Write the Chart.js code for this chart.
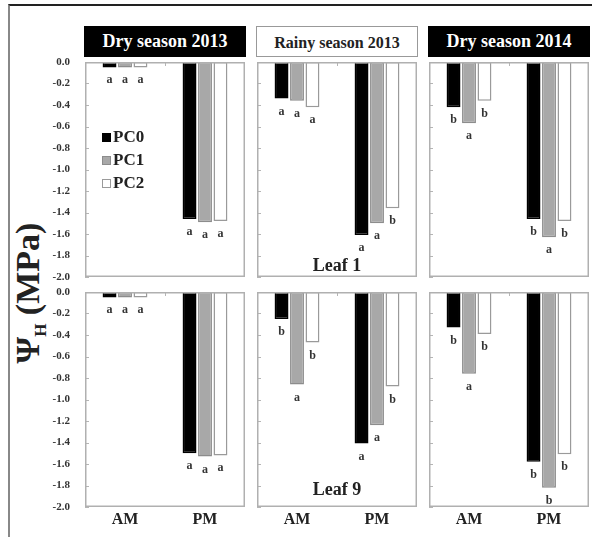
<!DOCTYPE html>
<html>
<head>
<meta charset="utf-8">
<script src="https://cdn.jsdelivr.net/npm/chart.js@4.4.1/dist/chart.umd.min.js"></script>
<style>
  body { margin: 0; background: #fff; font-family: 'Liberation Serif'; }
  #fig { position: relative; width: 592px; height: 537px; overflow: hidden; background: #fff; }
  #frame { position: absolute; left: 8px; top: 4px; width: 700px; height: 700px;
           border-top: 2px solid #222; border-left: 2px solid #888; }
  .ttl { position: absolute; height: 31px; line-height: 31px; text-align: center;
         font-family: 'Liberation Serif'; font-weight: bold; box-sizing: border-box; }
  .dark { background: #000; color: #fff; font-size: 18px; }
  .light { background: #fff; color: #222; border: 1.5px solid #999; font-size: 16px; }
  canvas { position: absolute; }
  #ylab { position: absolute; left: 30px; top: 293px; transform: translate(-50%, -50%) rotate(-90deg);
          font-family: 'Liberation Serif'; font-weight: bold; font-size: 34px; color: #222;
          white-space: nowrap; }
  #ylab sub { font-size: 17px; }
</style>
</head>
<body>
<div id="fig">
  <div id="frame"></div>
  <div id="ylab">Ψ<sub>H</sub> (MPa)</div>
</div>
<script>
// ---- data ----
const categories = ['AM', 'PM'];
const seriesNames = ['PC0', 'PC1', 'PC2'];
const seasonTitles = ['Dry season 2013', 'Rainy season 2013', 'Dry season 2014'];
const leafLabels = ['Leaf 1', 'Leaf 9'];
const yTicks = [0, -0.2, -0.4, -0.6, -0.8, -1.0, -1.2, -1.4, -1.6, -1.8, -2.0];

// values per panel: [PC0, PC1, PC2], each [AM, PM]
const leaf1Dry2013   = [[-0.05, -1.46], [-0.05, -1.49], [-0.05, -1.48]];
const leaf1Rainy2013 = [[-0.34, -1.61], [-0.36, -1.50], [-0.42, -1.36]];
const leaf1Dry2014   = [[-0.42, -1.46], [-0.57, -1.63], [-0.36, -1.48]];
const leaf9Dry2013   = [[-0.05, -1.50], [-0.05, -1.53], [-0.05, -1.52]];
const leaf9Rainy2013 = [[-0.25, -1.41], [-0.86, -1.24], [-0.47, -0.88]];
const leaf9Dry2014   = [[-0.33, -1.58], [-0.76, -1.82], [-0.39, -1.51]];

// significance letters, same layout
const letters1Dry2013   = [['a', 'a'], ['a', 'a'], ['a', 'a']];
const letters1Rainy2013 = [['a', 'a'], ['a', 'a'], ['a', 'b']];
const letters1Dry2014   = [['b', 'b'], ['a', 'a'], ['b', 'b']];
const letters9Dry2013   = [['a', 'a'], ['a', 'a'], ['a', 'a']];
const letters9Rainy2013 = [['b', 'a'], ['a', 'a'], ['b', 'b']];
const letters9Dry2014   = [['b', 'b'], ['a', 'b'], ['b', 'b']];

// ---- styling ----
const fills = ['#000000', '#a8a8a8', '#ffffff'];
const borders = ['#000000', '#8c8c8c', '#9a9a9a'];
const serif = "'Liberation Serif'";
Chart.defaults.font.family = serif;

const colLeft = [85, 257, 429];
const rowTop = [62, 292];
const plotW = 160, plotH = 215;

const panels = [
  { row: 0, col: 0, values: leaf1Dry2013, letters: letters1Dry2013, legend: true },
  { row: 0, col: 1, values: leaf1Rainy2013, letters: letters1Rainy2013, leaf: leafLabels[0], leafGap: 11 },
  { row: 0, col: 2, values: leaf1Dry2014, letters: letters1Dry2014 },
  { row: 1, col: 0, values: leaf9Dry2013, letters: letters9Dry2013 },
  { row: 1, col: 1, values: leaf9Rainy2013, letters: letters9Rainy2013, leaf: leafLabels[1], leafGap: 17 },
  { row: 1, col: 2, values: leaf9Dry2014, letters: letters9Dry2014 }
];

const fig = document.getElementById('fig');

// season header boxes
seasonTitles.forEach((t, i) => {
  const d = document.createElement('div');
  d.className = 'ttl ' + (i === 1 ? 'light' : 'dark');
  d.style.left = (colLeft[i] - 1) + 'px';
  d.style.top = '26px';
  d.style.width = (plotW + 2) + 'px';
  d.textContent = t;
  fig.appendChild(d);
});

// frame, inner tick marks, letters, leaf label, legend
const panelDecor = {
  id: 'panelDecor',
  afterDatasetsDraw(chart, args, opts) {
    const ctx = chart.ctx;
    const a = chart.chartArea;
    const ys = chart.scales.y, xs = chart.scales.x;
    ctx.save();
    // inner ticks
    ctx.strokeStyle = '#b5b5b5';
    ctx.lineWidth = 1;
    yTicks.forEach(v => {
      const y = Math.round(ys.getPixelForValue(v)) + 0.5;
      ctx.beginPath(); ctx.moveTo(a.left, y); ctx.lineTo(a.left + 4, y); ctx.stroke();
    });
    const mid = Math.round((xs.getPixelForValue(0) + xs.getPixelForValue(1)) / 2) + 0.5;
    ctx.beginPath(); ctx.moveTo(mid, a.top); ctx.lineTo(mid, a.top + 4); ctx.stroke();
    // panel frame
    ctx.strokeStyle = '#b0b0b0';
    ctx.lineWidth = 1.5;
    ctx.strokeRect(a.left + 0.75, a.top + 0.75, a.right - a.left - 1.5, a.bottom - a.top - 1.5);
    // letters
    ctx.fillStyle = '#333';
    ctx.font = 'bold 12px ' + serif;
    ctx.textAlign = 'center';
    ctx.textBaseline = 'middle';
    chart.data.datasets.forEach((ds, i) => {
      chart.getDatasetMeta(i).data.forEach((el, j) => {
        ctx.fillText(opts.letters[i][j], el.x, el.y + 13);
      });
    });
    // leaf label
    if (opts.leaf) {
      ctx.fillStyle = '#222';
      ctx.font = 'bold 18px ' + serif;
      ctx.fillText(opts.leaf, (a.left + a.right) / 2, a.bottom - opts.leafGap);
    }
    // legend
    if (opts.legend) {
      ctx.font = 'bold 17px ' + serif;
      ctx.textAlign = 'left';
      seriesNames.forEach((n, i) => {
        const y = a.top + 76 + i * 23;
        ctx.fillStyle = fills[i];
        ctx.fillRect(a.left + 17.5, y - 4.5, 8, 8);
        ctx.strokeStyle = borders[i];
        ctx.lineWidth = 1;
        ctx.strokeRect(a.left + 17.5, y - 4.5, 8, 8);
        ctx.fillStyle = '#222';
        ctx.fillText(n, a.left + 28, y);
      });
    }
    ctx.restore();
  }
};

panels.forEach(p => {
  const yW = p.col === 0 ? 36 : 0;
  const xH = p.row === 1 ? 26 : 0;
  const padTop = 8, padRight = 3, padBottom = p.row === 1 ? 0 : 8;
  const cv = document.createElement('canvas');
  const w = yW + plotW + padRight, h = padTop + plotH + xH + padBottom;
  cv.width = w; cv.height = h;
  cv.style.width = w + 'px'; cv.style.height = h + 'px';
  cv.style.left = (colLeft[p.col] - yW) + 'px';
  cv.style.top = (rowTop[p.row] - padTop) + 'px';
  fig.appendChild(cv);

  new Chart(cv, {
    type: 'bar',
    data: {
      labels: categories,
      datasets: seriesNames.map((n, i) => ({
        label: n,
        data: p.values[i],
        backgroundColor: fills[i],
        borderColor: borders[i],
        borderWidth: 1.5,
        borderSkipped: false,
        categoryPercentage: 0.58,
        barPercentage: 0.9
      }))
    },
    plugins: [panelDecor],
    options: {
      responsive: false,
      animation: false,
      devicePixelRatio: 1,
      layout: { padding: { top: padTop, right: padRight, left: 0, bottom: padBottom } },
      plugins: {
        legend: { display: false },
        tooltip: { enabled: false },
        panelDecor: { letters: p.letters, leaf: p.leaf, leafGap: p.leafGap, legend: !!p.legend }
      },
      scales: {
        x: {
          display: p.row === 1,
          grid: { display: false },
          border: { display: false },
          ticks: { color: '#222', font: { family: serif, size: 16, weight: 'bold' }, padding: -5 },
          afterFit: s => { s.height = xH; }
        },
        y: {
          display: p.col === 0,
          min: -2, max: 0,
          grid: { display: false },
          border: { display: false },
          ticks: {
            stepSize: 0.2,
            color: '#333',
            padding: 7,
            font: { family: serif, size: 11, weight: 'bold' },
            callback: v => (Math.abs(v) < 1e-9 ? '0.0' : v.toFixed(1))
          },
          afterFit: s => { s.width = yW; s.paddingTop = 0; s.paddingBottom = 0; }
        }
      }
    }
  });
});
</script>
</body>
</html>
